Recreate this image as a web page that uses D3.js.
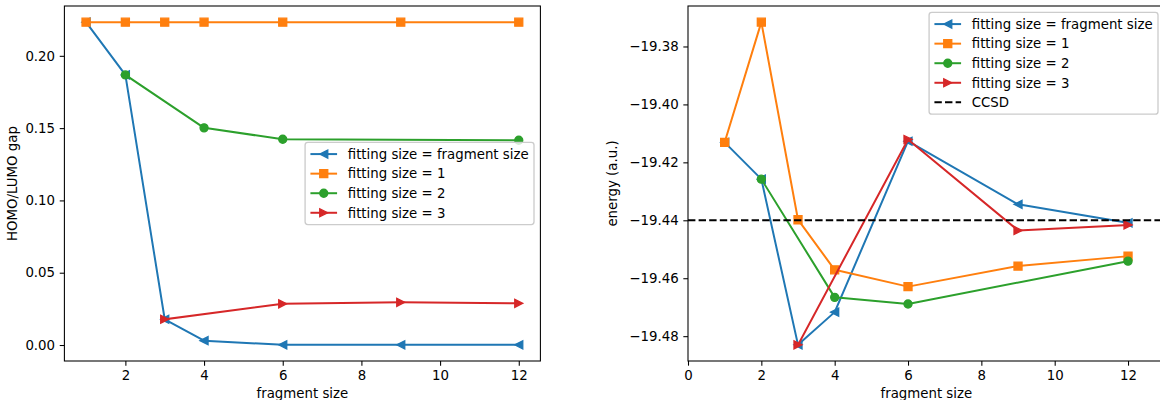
<!DOCTYPE html>
<html>
<head>
<meta charset="utf-8">
<script src="https://cdn.jsdelivr.net/npm/d3@7"></script>
<style>
  body { margin: 0; background: #fff; }
  svg { display: block; font-family: "DejaVu Sans", sans-serif; }
</style>
</head>
<body>
<svg id="fig" width="1160" height="400"></svg>
<script>
// ---- data ----
const fragmentSizes = [1, 2, 3, 4, 6, 9, 12];
const fit2Sizes = [2, 4, 6, 12];
const fit3Sizes = [3, 6, 9, 12];

// HOMO/LUMO gap
const gapFragment = [0.2233, 0.1868, 0.0178, 0.0030, 0.0001, 0.0001, 0.0001];
const gapFit1     = [0.2233, 0.2233, 0.2233, 0.2233, 0.2233, 0.2233, 0.2233];
const gapFit2     = [0.1868, 0.1502, 0.1423, 0.1416];
const gapFit3     = [0.0178, 0.0285, 0.0295, 0.0288];

// total energy (a.u.)
const energyFragment = [-19.4131, -19.4258, -19.4830, -19.4717, -19.4127, -19.4345, -19.4409];
const energyFit1     = [-19.4131, -19.3716, -19.4398, -19.4571, -19.4629, -19.4558, -19.4524];
const energyFit2     = [-19.4258, -19.4666, -19.4689, -19.4541];
const energyFit3     = [-19.4830, -19.4121, -19.4435, -19.4416];
const energyCCSD = -19.440;

const seriesLabels = ["fitting size = fragment size", "fitting size = 1", "fitting size = 2", "fitting size = 3"];
const ccsdLabel = "CCSD";

const gapXTicks = [2, 4, 6, 8, 10, 12];
const gapYTicks = [0.00, 0.05, 0.10, 0.15, 0.20];
const energyXTicks = [0, 2, 4, 6, 8, 10, 12];
const energyYTicks = [-19.48, -19.46, -19.44, -19.42, -19.40, -19.38];

// ---- style ----
const colors = ["#1f77b4", "#ff7f0e", "#2ca02c", "#d62728"];
const markers = ["triLeft", "square", "circle", "triRight"];
const FS = 13.33;          // 10pt
const LW = 2;              // 1.5pt
const MS = 8;              // 6pt
const MEW = 1.33;          // 1pt
const TICK = 4.67;         // 3.5pt
const SPINE = 1.07;        // 0.8pt

const svg = d3.select("#fig");

function markerPath(type, s) {
  const h = s / 2;
  switch (type) {
    case "triLeft":  return `M${-h},0L${h},${-h}L${h},${h}Z`;
    case "triRight": return `M${h},0L${-h},${-h}L${-h},${h}Z`;
    case "square":   return `M${-h},${-h}H${h}V${h}H${-h}Z`;
    case "circle":   return `M${h},0A${h},${h} 0 1,1 ${-h},0A${h},${h} 0 1,1 ${h},0Z`;
  }
}

function padded(lo, hi) {
  const m = (hi - lo) * 0.05;
  return [lo - m, hi + m];
}

function drawPanel(cfg) {
  const { id, left, right, top, bottom, xDomain, yDomain, xTicks, yTicks, series, hline, xLabel, yLabel, yLabelX, legend } = cfg;
  const x = d3.scaleLinear().domain(xDomain).range([left, right]);
  const y = d3.scaleLinear().domain(yDomain).range([bottom, top]);
  const g = svg.append("g");

  g.append("clipPath").attr("id", "clip-" + id)
    .append("rect").attr("x", left).attr("y", top).attr("width", right - left).attr("height", bottom - top);

  const plot = g.append("g").attr("clip-path", `url(#clip-${id})`);
  const line = d3.line().x(d => x(d[0])).y(d => y(d[1]));

  series.forEach(s => {
    const pts = s.xs.map((v, i) => [v, s.ys[i]]);
    const sg = plot.append("g");
    sg.append("path").attr("d", line(pts)).attr("fill", "none")
      .attr("stroke", s.color).attr("stroke-width", LW).attr("stroke-linejoin", "round").attr("stroke-linecap", "square");
    sg.selectAll("path.m").data(pts).join("path").attr("class", "m")
      .attr("transform", d => `translate(${x(d[0])},${y(d[1])})`)
      .attr("d", markerPath(s.marker, MS))
      .attr("fill", s.color).attr("stroke", s.color).attr("stroke-width", MEW);
  });

  if (hline !== undefined) {
    plot.append("line").attr("x1", left).attr("x2", right).attr("y1", y(hline)).attr("y2", y(hline))
      .attr("stroke", "#000").attr("stroke-width", LW).attr("stroke-dasharray", "7.4,3.2");
  }

  // axes
  const fmt = d3.format(".2f");
  const xa = g.append("g").attr("transform", `translate(0,${bottom})`)
    .call(d3.axisBottom(x).tickValues(xTicks).tickFormat(d3.format("d")).tickSizeInner(TICK).tickSizeOuter(0).tickPadding(TICK));
  const ya = g.append("g").attr("transform", `translate(${left},0)`)
    .call(d3.axisLeft(y).tickValues(yTicks).tickFormat(fmt).tickSizeInner(TICK).tickSizeOuter(0).tickPadding(TICK));
  [xa, ya].forEach(a => {
    a.select(".domain").remove();
    a.attr("font-family", null).attr("font-size", null);
    a.selectAll(".tick line").attr("stroke", "#000").attr("stroke-width", SPINE);
    a.selectAll(".tick text").attr("fill", "#000").style("font-size", FS + "px");
  });

  // spines
  g.append("rect").attr("x", left).attr("y", top).attr("width", right - left).attr("height", bottom - top)
    .attr("fill", "none").attr("stroke", "#000").attr("stroke-width", SPINE);

  g.append("text").attr("x", (left + right) / 2).attr("y", 398).attr("text-anchor", "middle")
    .style("font-size", FS + "px").attr("fill", "#000").text(xLabel);
  g.append("text").attr("transform", `translate(${yLabelX},${(top + bottom) / 2}) rotate(-90)`)
    .attr("text-anchor", "middle").style("font-size", FS + "px").attr("fill", "#000").text(yLabel);

  // legend
  const items = series.map(s => ({ label: s.label, color: s.color, marker: s.marker, dash: null }));
  if (hline !== undefined) items.push({ label: ccsdLabel, color: "#000", marker: null, dash: "7.4,3.2" });
  const pad = 0.4 * FS, handleLen = 2 * FS, textPad = 0.8 * FS, rowH = 12.9, spacing = 0.5 * FS;
  const lg = g.append("g");
  const frame = lg.append("rect");
  const texts = [];
  items.forEach((it, i) => {
    const cy = legend.top + pad + rowH / 2 + i * (rowH + spacing);
    texts.push({ it, cy });
  });
  const tmp = lg.append("g");
  let maxW = 0;
  texts.forEach(t => {
    const tt = tmp.append("text").style("font-size", FS + "px").text(t.it.label);
    maxW = Math.max(maxW, tt.node().getComputedTextLength());
  });
  tmp.remove();
  const width = pad + handleLen + textPad + maxW + pad;
  const height = pad * 2 + items.length * rowH + (items.length - 1) * spacing;
  const lx = legend.right - width;
  frame.attr("x", lx).attr("y", legend.top).attr("width", width).attr("height", height)
    .attr("rx", 2.7).attr("fill", "#fff").attr("fill-opacity", 0.8)
    .attr("stroke", "#cccccc").attr("stroke-width", 1.33);
  texts.forEach(t => {
    const hx0 = lx + pad, hx1 = hx0 + handleLen;
    lg.append("line").attr("x1", hx0).attr("x2", hx1).attr("y1", t.cy).attr("y2", t.cy)
      .attr("stroke", t.it.color).attr("stroke-width", LW)
      .attr("stroke-dasharray", t.it.dash);
    if (t.it.marker) {
      lg.append("path").attr("transform", `translate(${(hx0 + hx1) / 2},${t.cy})`)
        .attr("d", markerPath(t.it.marker, MS))
        .attr("fill", t.it.color).attr("stroke", t.it.color).attr("stroke-width", MEW);
    }
    lg.append("text").attr("x", hx1 + textPad).attr("y", t.cy).attr("dy", "0.36em")
      .style("font-size", FS + "px").attr("fill", "#000").text(t.it.label);
  });
}

const gapSeries = [
  { xs: fragmentSizes, ys: gapFragment },
  { xs: fragmentSizes, ys: gapFit1 },
  { xs: fit2Sizes, ys: gapFit2 },
  { xs: fit3Sizes, ys: gapFit3 }
].map((s, i) => ({ ...s, label: seriesLabels[i], color: colors[i], marker: markers[i] }));

const energySeries = [
  { xs: fragmentSizes, ys: energyFragment },
  { xs: fragmentSizes, ys: energyFit1 },
  { xs: fit2Sizes, ys: energyFit2 },
  { xs: fit3Sizes, ys: energyFit3 }
].map((s, i) => ({ ...s, label: seriesLabels[i], color: colors[i], marker: markers[i] }));

const allGap = gapSeries.flatMap(s => s.ys);
const allEnergy = energySeries.flatMap(s => s.ys).concat([energyCCSD]);

drawPanel({
  id: "gap", left: 64.4, right: 540.4, top: 6, bottom: 361,
  xDomain: padded(d3.min(fragmentSizes), d3.max(fragmentSizes)),
  yDomain: padded(d3.min(allGap), d3.max(allGap)),
  xTicks: gapXTicks, yTicks: gapYTicks, series: gapSeries,
  xLabel: "fragment size", yLabel: "HOMO/LUMO gap", yLabelX: 17,
  legend: { right: 534, top: 142.3 }
});

drawPanel({
  id: "energy", left: 688, right: 1164.7, top: 6, bottom: 361,
  xDomain: [0, 13],
  yDomain: padded(d3.min(allEnergy), d3.max(allEnergy)),
  xTicks: energyXTicks, yTicks: energyYTicks, series: energySeries, hline: energyCCSD,
  xLabel: "fragment size", yLabel: "energy (a.u.)", yLabelX: 617,
  legend: { right: 1158, top: 12.3 }
});
</script>
</body>
</html>
